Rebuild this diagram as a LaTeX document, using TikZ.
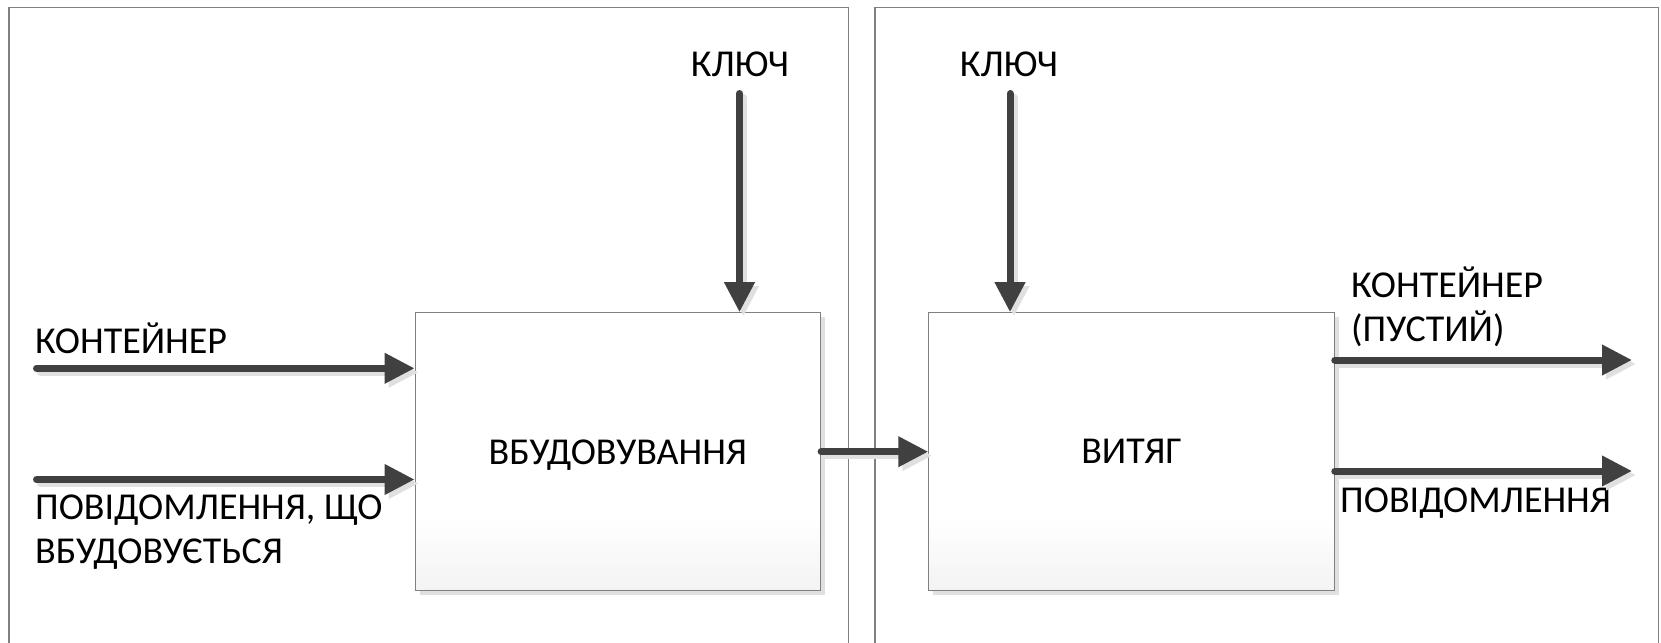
\documentclass[tikz,border=0pt]{standalone}
\usepackage{fontspec}
\setmainfont{Carlito}
\usetikzlibrary{arrows.meta,shadows}

\definecolor{flowgray}{HTML}{404040}
\definecolor{shadegray}{HTML}{E0E0E0}
\definecolor{edgegray}{HTML}{808080}
\definecolor{boxlow}{HTML}{F3F3F3}
% white box fading to a light grey near its bottom edge
\pgfdeclareverticalshading{boxfade}{100bp}{color(0bp)=(boxlow); color(25bp)=(boxlow); color(38bp)=(white); color(100bp)=(white)}

\tikzset{
  panel/.style={draw=edgegray, line width=1.1bp},
  stage/.style={draw=edgegray, line width=1bp, shade, shading=boxfade,
    minimum width=405.5bp, minimum height=278bp, inner sep=0pt, text depth=0pt,
    font=\fontsize{38bp}{44bp}\selectfont,
    drop shadow={shadow xshift=4.5bp, shadow yshift=-4.5bp, fill=shadegray, opacity=1}},
  txt/.style={inner sep=0pt, align=left, font=\fontsize{38bp}{44bp}\selectfont},
  flow/.style={draw=flowgray, line width=7bp, line cap=round,
    -{Triangle[length=30bp,width=29bp]}},
  flowshade/.style={flow, draw=shadegray, transform canvas={xshift=4bp, yshift=-4bp}},
}

\begin{document}
\begin{tikzpicture}[x=1bp, y=-1bp]
\useasboundingbox (0,0) rectangle (1661,643);

% two panels, open at the bottom
\draw[panel] (9,660) -- (9,7.5) -- (848.5,7.5) -- (848.5,660);
\draw[panel] (875,660) -- (875,7.5) -- (1658.5,7.5) -- (1658.5,660);

% the two process boxes
\node[stage] (embed) at (617.85,451.7) {ВБУДОВУВАННЯ};
\node[stage] (extract) at (1131.5,451.7) {ВИТЯГ};

% labels (for two-line labels the base anchor sits on the last line)
\node[txt, anchor=base] (key1) at (740,76.5) {КЛЮЧ};
\node[txt, anchor=base] (key2) at (1009,76.5) {КЛЮЧ};
\node[txt, anchor=base west] (contIn) at (35,353) {КОНТЕЙНЕР};
\node[txt, anchor=base west] (msgIn) at (35,563) {ПОВІДОМЛЕННЯ, ЩО\\ВБУДОВУЄТЬСЯ};
\node[txt, anchor=base west] (contOut) at (1351,341.5) {КОНТЕЙНЕР\\(ПУСТИЙ)};
\node[txt, anchor=base west] (msgOut) at (1340,512) {ПОВІДОМЛЕННЯ};

% free ends of the connectors
\coordinate (contInS) at (36.5,368.3);
\coordinate (msgInS) at (36.5,479.5);
\coordinate (key1S) at (739.5,93.5);
\coordinate (key2S) at (1010,93.5);
\coordinate (contOutE) at (1632,360);
\coordinate (msgOutE) at (1632,471);

% connector shadows
\draw[flowshade] (contInS) -- (contInS -| embed.west);
\draw[flowshade] (msgInS) -- (msgInS -| embed.west);
\draw[flowshade] (key1S) -- (key1S |- embed.north);
\draw[flowshade] (key2S) -- (key2S |- extract.north);
\draw[flowshade] (embed.east) -- (extract.west);
\draw[flowshade] (extract.east |- contOutE) -- (contOutE);
\draw[flowshade] (extract.east |- msgOutE) -- (msgOutE);

% connectors
\draw[flow] (contInS) -- (contInS -| embed.west);
\draw[flow] (msgInS) -- (msgInS -| embed.west);
\draw[flow] (key1S) -- (key1S |- embed.north);
\draw[flow] (key2S) -- (key2S |- extract.north);
\draw[flow] (embed.east) -- (extract.west);
\draw[flow] (extract.east |- contOutE) -- (contOutE);
\draw[flow] (extract.east |- msgOutE) -- (msgOutE);
\end{tikzpicture}
\end{document}
